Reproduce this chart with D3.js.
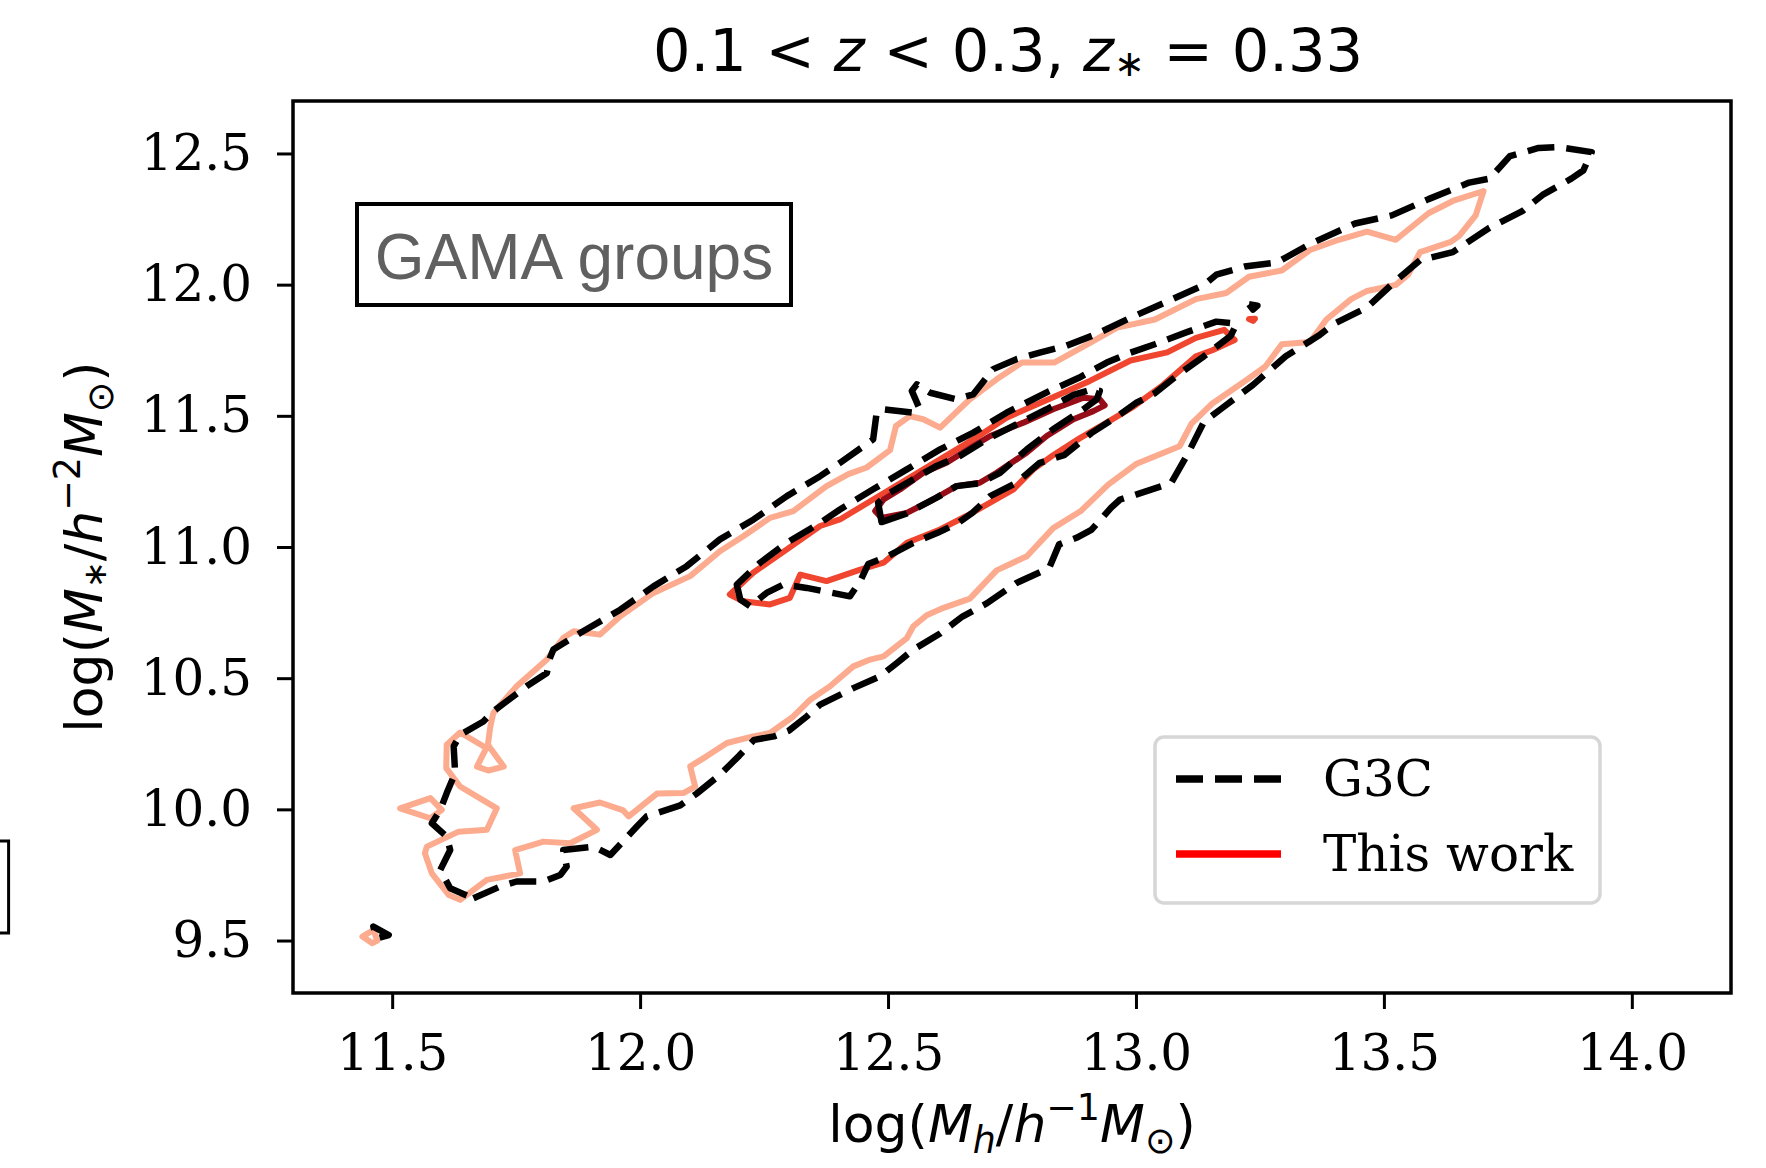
<!DOCTYPE html>
<html>
<head>
<meta charset="utf-8">
<script src="https://cdn.jsdelivr.net/npm/d3@7"></script>
<style>
  html, body { margin: 0; padding: 0; background: #fff; }
  svg { display: block; }
</style>
</head>
<body>
<div id="chart"></div>
<script>
// tick values
const xTicks = [11.5, 12.0, 12.5, 13.0, 13.5, 14.0];
const yTicks = [9.5, 10.0, 10.5, 11.0, 11.5, 12.0, 12.5];

// contour levels, "This work" (Reds), outer -> inner
const oursOuter = [[11.637,9.655],[11.691,9.731],[11.758,9.756],[11.748,9.845],[11.805,9.877],[11.859,9.871],[11.913,9.922],[11.866,10.004],[11.919,10.026],[11.966,9.996],[11.977,9.973],[12.034,10.060],[12.087,10.062],[12.111,10.087],[12.101,10.164],[12.134,10.202],[12.175,10.253],[12.228,10.278],[12.262,10.291],[12.309,10.354],[12.343,10.418],[12.383,10.469],[12.430,10.545],[12.464,10.571],[12.491,10.583],[12.538,10.653],[12.551,10.698],[12.578,10.740],[12.612,10.768],[12.665,10.803],[12.719,10.911],[12.780,10.965],[12.833,11.072],[12.888,11.136],[12.944,11.238],[13.000,11.316],[13.088,11.384],[13.112,11.470],[13.154,11.547],[13.220,11.633],[13.261,11.688],[13.294,11.773],[13.351,11.781],[13.384,11.867],[13.434,11.945],[13.466,11.976],[13.524,11.999],[13.549,12.038],[13.573,12.124],[13.635,12.163],[13.652,12.186],[13.685,12.264],[13.701,12.357],[13.639,12.319],[13.590,12.272],[13.524,12.171],[13.466,12.202],[13.409,12.171],[13.351,12.132],[13.294,12.054],[13.228,12.030],[13.182,11.968],[13.121,11.945],[13.038,11.867],[12.962,11.836],[12.892,11.762],[12.835,11.703],[12.770,11.703],[12.719,11.639],[12.665,11.563],[12.605,11.455],[12.571,11.487],[12.544,11.499],[12.516,11.461],[12.504,11.369],[12.457,11.303],[12.420,11.278],[12.376,11.232],[12.309,11.137],[12.262,11.111],[12.208,11.041],[12.161,10.984],[12.101,10.889],[12.027,10.825],[11.960,10.736],[11.919,10.666],[11.866,10.679],[11.845,10.653],[11.812,10.571],[11.751,10.469],[11.704,10.367],[11.698,10.316],[11.693,10.246],[11.725,10.163],[11.694,10.148],[11.671,10.163],[11.690,10.234],[11.637,10.293],[11.610,10.246],[11.609,10.157],[11.637,10.087],[11.711,10.004],[11.691,9.922],[11.634,9.915],[11.570,9.858],[11.566,9.833],[11.580,9.756],[11.614,9.674]];
const oursOuterBits = [
  [[11.516,10.004],[11.577,10.043],[11.600,9.998],[11.577,9.966]],
  [[11.440,9.515],[11.462,9.540],[11.470,9.500],[11.460,9.490]]
];
const oursMiddle = [[12.181,10.819],[12.208,10.793],[12.262,10.781],[12.302,10.806],[12.323,10.895],[12.376,10.870],[12.444,10.914],[12.491,10.940],[12.538,11.016],[12.605,11.067],[12.658,11.118],[12.706,11.169],[12.753,11.220],[12.793,11.296],[12.833,11.350],[12.887,11.415],[12.941,11.474],[12.995,11.535],[13.055,11.618],[13.121,11.727],[13.154,11.750],[13.199,11.789],[13.178,11.828],[13.121,11.797],[13.063,11.742],[12.989,11.711],[12.907,11.633],[12.833,11.571],[12.739,11.493],[12.672,11.410],[12.605,11.334],[12.538,11.258],[12.470,11.181],[12.403,11.105],[12.363,11.080],[12.296,10.991],[12.228,10.902]];
const oursMiddleBits = [
  [[13.228,11.869],[13.240,11.870],[13.236,11.862]]
];
const oursInner = [[12.474,11.137],[12.487,11.111],[12.538,11.130],[12.591,11.181],[12.638,11.232],[12.685,11.245],[12.719,11.283],[12.780,11.360],[12.820,11.423],[12.874,11.487],[12.914,11.518],[12.937,11.540],[12.927,11.563],[12.894,11.569],[12.833,11.525],[12.773,11.474],[12.706,11.423],[12.672,11.385],[12.618,11.321],[12.571,11.283],[12.524,11.219],[12.491,11.181]];

// contour levels, G3C (dashed black)
const g3cOuter = [[11.664,9.661],[11.718,9.706],[11.751,9.725],[11.805,9.725],[11.839,9.750],[11.852,9.782],[11.845,9.845],[11.906,9.858],[11.940,9.826],[11.993,9.934],[12.013,9.973],[12.081,10.015],[12.114,10.060],[12.160,10.130],[12.200,10.205],[12.230,10.265],[12.270,10.278],[12.300,10.300],[12.336,10.354],[12.363,10.399],[12.430,10.462],[12.484,10.507],[12.518,10.558],[12.551,10.609],[12.605,10.670],[12.650,10.735],[12.699,10.785],[12.759,10.863],[12.825,10.920],[12.845,11.010],[12.880,11.035],[12.910,11.065],[12.950,11.150],[12.968,11.181],[13.000,11.200],[13.071,11.244],[13.104,11.353],[13.137,11.477],[13.170,11.524],[13.236,11.618],[13.302,11.727],[13.368,11.805],[13.400,11.851],[13.466,11.913],[13.524,12.015],[13.573,12.093],[13.639,12.124],[13.713,12.217],[13.779,12.280],[13.820,12.342],[13.878,12.404],[13.902,12.435],[13.919,12.505],[13.853,12.524],[13.812,12.521],[13.754,12.490],[13.713,12.404],[13.672,12.389],[13.590,12.326],[13.516,12.264],[13.442,12.233],[13.351,12.155],[13.285,12.085],[13.219,12.069],[13.162,12.038],[13.137,11.999],[13.055,11.929],[12.989,11.874],[12.921,11.812],[12.858,11.766],[12.806,11.741],[12.759,11.716],[12.712,11.678],[12.672,11.582],[12.638,11.563],[12.585,11.588],[12.558,11.620],[12.548,11.595],[12.564,11.525],[12.551,11.512],[12.491,11.525],[12.477,11.512],[12.470,11.410],[12.403,11.321],[12.363,11.270],[12.296,11.194],[12.229,11.105],[12.161,11.029],[12.094,10.927],[12.027,10.850],[11.960,10.761],[11.879,10.672],[11.825,10.609],[11.817,10.571],[11.812,10.520],[11.771,10.469],[11.704,10.374],[11.684,10.335],[11.637,10.284],[11.624,10.240],[11.627,10.138],[11.610,10.062],[11.597,9.998],[11.580,9.947],[11.610,9.896],[11.617,9.845],[11.597,9.769],[11.617,9.699]];
const g3cOuterBits = [
  [[11.462,9.553],[11.493,9.521],[11.469,9.508]],
  [[13.228,11.925],[13.245,11.920],[13.236,11.905]]
];
const g3cMiddle = [[12.195,10.857],[12.202,10.800],[12.222,10.774],[12.255,10.825],[12.289,10.857],[12.336,10.844],[12.423,10.812],[12.444,10.870],[12.460,10.935],[12.500,10.965],[12.548,11.013],[12.600,11.054],[12.640,11.090],[12.670,11.130],[12.706,11.194],[12.759,11.245],[12.806,11.321],[12.855,11.350],[12.910,11.434],[12.960,11.495],[13.001,11.550],[13.038,11.586],[13.080,11.649],[13.137,11.727],[13.191,11.805],[13.203,11.851],[13.162,11.859],[13.104,11.820],[13.038,11.773],[12.985,11.738],[12.941,11.703],[12.885,11.645],[12.825,11.594],[12.739,11.512],[12.672,11.436],[12.605,11.372],[12.538,11.296],[12.470,11.220],[12.403,11.143],[12.363,11.092],[12.296,11.016],[12.242,10.940]];
const g3cInner = [[12.487,11.095],[12.538,11.128],[12.598,11.188],[12.638,11.232],[12.685,11.243],[12.726,11.283],[12.780,11.372],[12.833,11.449],[12.894,11.525],[12.921,11.563],[12.927,11.595],[12.904,11.597],[12.874,11.580],[12.820,11.525],[12.766,11.474],[12.699,11.410],[12.645,11.347],[12.598,11.309],[12.551,11.258],[12.504,11.207],[12.480,11.169]];

const levelColors = ["#fcab8f", "#f0452f", "#960d18"];

const W = 1766, H = 1168;
const box = {left: 293, right: 1731, top: 101, bottom: 993};

const svg = d3.select("#chart").append("svg")
    .attr("width", W)
    .attr("height", H);

svg.append("rect").attr("width", W).attr("height", H).attr("fill", "white");

const x = d3.scaleLinear().domain([11.3, 14.2]).range([box.left, box.right]);
const y = d3.scaleLinear().domain([9.3, 12.7]).range([box.bottom, box.top]);

// edge of the neighbouring panel's box
svg.append("rect")
    .attr("x", -20).attr("y", 841).attr("width", 28.6).attr("height", 92)
    .attr("fill", "none").attr("stroke", "black").attr("stroke-width", 3);

svg.append("clipPath").attr("id", "plot-area")
    .append("rect")
    .attr("x", box.left).attr("y", box.top)
    .attr("width", box.right - box.left).attr("height", box.bottom - box.top);

const plot = svg.append("g").attr("clip-path", "url(#plot-area)");

const ring = d3.line()
    .x(d => x(d[0]))
    .y(d => y(d[1]))
    .curve(d3.curveLinearClosed);

function drawRings(rings, color, dashed) {
    plot.selectAll(null)
        .data(rings)
        .join("path")
        .attr("d", ring)
        .attr("fill", "none")
        .attr("stroke", color)
        .attr("stroke-width", dashed ? 6.5 : 6)
        .attr("stroke-linejoin", "round")
        .attr("stroke-dasharray", dashed ? "27,12" : null);
}

// this work first, G3C dashed on top
drawRings([oursOuter, ...oursOuterBits], levelColors[0], false);
drawRings([oursMiddle, ...oursMiddleBits], levelColors[1], false);
drawRings([oursInner], levelColors[2], false);
drawRings([g3cOuter, ...g3cOuterBits, g3cMiddle, g3cInner], "black", true);

// axes
const xAxis = d3.axisBottom(x).tickValues(xTicks).tickFormat(d3.format(".1f"))
    .tickSize(16).tickPadding(25);
const yAxis = d3.axisLeft(y).tickValues(yTicks).tickFormat(d3.format(".1f"))
    .tickSize(16).tickPadding(25);

svg.append("g")
    .attr("transform", `translate(0,${box.bottom})`)
    .call(xAxis);
svg.append("g")
    .attr("transform", `translate(${box.left},0)`)
    .call(yAxis);

svg.selectAll(".domain").remove();
svg.selectAll(".tick line").attr("stroke", "black").attr("stroke-width", 3);
svg.selectAll(".tick text")
    .attr("fill", "black")
    .style("font-family", "'DejaVu Serif', serif")
    .style("font-size", "50px");

svg.append("rect")
    .attr("x", box.left).attr("y", box.top)
    .attr("width", box.right - box.left).attr("height", box.bottom - box.top)
    .attr("fill", "none").attr("stroke", "black").attr("stroke-width", 3.5);

// mathtext-like labels: sub, sup, or star (small asterisk near the baseline)
function richText(sel, parts, fs) {
    let shift = 0;
    parts.forEach(p => {
        const target = p.sub ? 0.22 * fs : p.sup ? -0.42 * fs : p.star ? 0.08 * fs : 0;
        const size = p.sub || p.sup ? 0.7 * fs : p.star ? 0.62 * fs : fs;
        sel.append("tspan")
            .attr("dy", target - shift)
            .style("font-style", p.it ? "italic" : "normal")
            .style("font-size", size + "px")
            .text(p.t);
        shift = target;
    });
}

const sans = "'DejaVu Sans', sans-serif";

const title = svg.append("text")
    .attr("x", (box.left + box.right) / 2 - 4).attr("y", 71)
    .attr("text-anchor", "middle")
    .style("font-family", sans).style("font-size", "59px");
richText(title, [
    {t: "0.1 < "}, {t: "z", it: true}, {t: " < 0.3, "},
    {t: "z", it: true}, {t: "\u2217", star: true}, {t: " = 0.33"}
], 59);

const xLabel = svg.append("text")
    .attr("x", (box.left + box.right) / 2).attr("y", 1142)
    .attr("text-anchor", "middle")
    .style("font-family", sans).style("font-size", "52px");
richText(xLabel, [
    {t: "log("}, {t: "M", it: true}, {t: "h", it: true, sub: true},
    {t: "/"}, {t: "h", it: true}, {t: "\u22121", sup: true},
    {t: "M", it: true}, {t: "\u2299", sub: true}, {t: ")"}
], 52);

const yLabel = svg.append("text")
    .attr("transform", `translate(102,${(box.top + box.bottom) / 2}) rotate(-90)`)
    .attr("text-anchor", "middle")
    .style("font-family", sans).style("font-size", "52px");
richText(yLabel, [
    {t: "log("}, {t: "M", it: true}, {t: "\u2217", star: true},
    {t: "/"}, {t: "h", it: true}, {t: "\u22122", sup: true},
    {t: "M", it: true}, {t: "\u2299", sub: true}, {t: ")"}
], 52);

// "GAMA groups" box
svg.append("rect")
    .attr("x", 357).attr("y", 204).attr("width", 434).attr("height", 101)
    .attr("fill", "white").attr("stroke", "black").attr("stroke-width", 4);
svg.append("text")
    .attr("x", 574).attr("y", 279)
    .attr("text-anchor", "middle")
    .attr("fill", "#606060")
    .style("font-family", "'Liberation Sans', Arial, sans-serif")
    .style("font-size", "64px")
    .text("GAMA groups");

// legend
const legendItems = [
    {label: "G3C", color: "black", dash: "27,12", y: 779},
    {label: "This work", color: "red", dash: null, y: 854}
];
const legend = svg.append("g");
legend.append("rect")
    .attr("x", 1155).attr("y", 737).attr("width", 445).attr("height", 166)
    .attr("rx", 9)
    .attr("fill", "white").attr("stroke", "#d6d6d6").attr("stroke-width", 3.5);
legend.selectAll("line")
    .data(legendItems)
    .join("line")
    .attr("x1", 1176).attr("x2", 1281)
    .attr("y1", d => d.y).attr("y2", d => d.y)
    .attr("stroke", d => d.color)
    .attr("stroke-width", 7.5)
    .attr("stroke-dasharray", d => d.dash);
legend.selectAll("text")
    .data(legendItems)
    .join("text")
    .attr("x", 1323)
    .attr("y", d => d.y + 17)
    .style("font-family", "'DejaVu Serif', serif")
    .style("font-size", "50px")
    .text(d => d.label);
</script>
</body>
</html>
